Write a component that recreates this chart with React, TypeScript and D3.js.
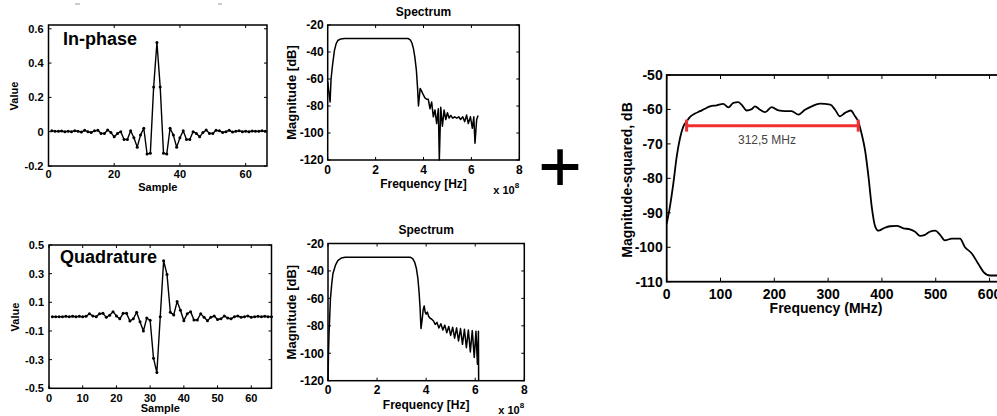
import React from 'react';
import * as d3 from 'd3';

// ---------- data ----------
const inPhase = [
  0.005, 0.003, 0.002, 0.004, 0.0, 0.003, 0.0, 0.006, 0.002, -0.002, 0.008, 0.0, -0.004, 0.005,
  0.008, -0.01, -0.01, 0.01, -0.005, -0.03, -0.01, 0.0, -0.045, -0.045, 0.005, -0.035, -0.09,
  -0.02, 0.02, -0.13, -0.125, 0.26, 0.52, 0.26, -0.125, -0.13, 0.02, -0.02, -0.09, -0.035,
  0.005, -0.045, -0.045, 0.0, -0.01, -0.03, -0.005, 0.01, -0.01, -0.01, 0.008, 0.005, -0.004,
  0.0, 0.008, -0.002, 0.002, 0.006, 0.0, 0.003, 0.0, 0.004, 0.002, 0.003, 0.005, 0.002,
];
const quadrature = [
  0.0, 0.0, 0.0, 0.0, 0.002, 0.0, 0.003, 0.0, 0.002, 0.0, 0.003, 0.02, 0.005, 0.0, 0.02,
  0.023, -0.005, 0.01, 0.035, 0.005, -0.015, 0.023, 0.023, -0.03, -0.015, 0.03, -0.035, -0.1,
  -0.01, -0.025, -0.29, -0.39, 0.0, 0.39, 0.295, 0.03, 0.012, 0.105, 0.045, -0.028, 0.02,
  0.035, -0.023, -0.023, 0.02, -0.005, -0.028, -0.005, 0.005, -0.02, -0.015, 0.005, -0.01,
  -0.015, 0.0, 0.005, -0.005, 0.0, 0.005, -0.005, 0.0, 0.002, 0.0, 0.003, 0.0, 0.0,
];

const spec1Freq = [
  0, 0.05, 0.1, 0.14, 0.2, 0.28, 0.35, 0.42, 0.55, 0.7, 1.5, 2.5, 3.35, 3.45, 3.52, 3.58, 3.64,
  3.7, 3.75, 3.79, 3.86, 3.92, 4.0, 4.06, 4.13, 4.2, 4.27, 4.34, 4.41, 4.48, 4.55, 4.62, 4.66,
  4.72, 4.79, 4.86, 4.93, 5.0, 5.07, 5.14, 5.22, 5.3, 5.39, 5.47, 5.55, 5.64, 5.72, 5.8, 5.87,
  5.96, 6.04, 6.1, 6.15, 6.22, 6.28,
];
const spec1Db = [
  -62, -70, -77, -60, -50, -39, -34, -31.5, -30.3, -30, -30, -30, -30, -31, -33.5, -37.5, -44,
  -53, -66, -80, -67, -69, -72, -74, -75, -75, -82, -77, -88, -83, -93, -82, -120,
  -81, -95, -83, -90, -85, -89, -87, -89, -88, -89, -88, -90, -88, -91.6, -86.7, -93,
  -88, -96.5, -88, -107.6, -90, -87,
];

const spec2Freq = [
  0, 0.02, 0.04, 0.1, 0.15, 0.2, 0.3, 0.4, 0.55, 0.7, 2, 3.35, 3.45, 3.53, 3.6, 3.66, 3.71, 3.75,
  3.79, 3.84, 3.88, 3.92, 3.96, 4.0, 4.05, 4.1, 4.16, 4.22, 4.3, 4.37, 4.44, 4.52, 4.6, 4.68,
  4.76, 4.84, 4.92, 5.0, 5.08, 5.16, 5.24, 5.32, 5.4, 5.48, 5.56, 5.64, 5.72, 5.8, 5.88, 5.96,
  6.03, 6.09, 6.13, 6.14,
];
const spec2Db = [
  -120, -100, -87, -60, -50, -42, -36, -32.5, -30.5, -30, -30, -30, -31, -33.5, -38, -45, -55, -66,
  -82, -75, -68, -65.5, -70, -71.5, -70, -73, -74.5, -75, -76.5, -79, -77.5, -81.5, -78.5, -83,
  -79.5, -85, -80.5, -87, -81, -89, -81.5, -91, -82, -93.5, -82.5, -96, -83, -99, -83.5, -103,
  -84, -108, -84, -120,
];

const bandFreq = [
  0, 6, 12.4, 18.6, 24.8, 31, 37, 43, 52.7, 62, 71, 80.5, 93, 105, 114.6, 124, 133, 139, 148.7,
  158, 164, 173.5, 183, 195, 207.6, 220, 232, 245, 257, 269.5, 285, 304, 313, 322, 331.5, 342,
  350, 356, 362, 368.5, 375, 381, 387.5, 393.6, 403, 415, 427.5, 440, 452, 461.6, 471, 480, 489,
  499, 508, 517, 530, 545, 554, 567, 579, 589, 601, 614,
];
const bandDb = [
  -93.1, -88.2, -81.4, -73.7, -68.3, -64.9, -63.5, -62.2, -61.2, -60.5, -59.8, -59.1, -58.8,
  -58.4, -59.4, -58.1, -57.9, -58.6, -60.3, -59.9, -59.1, -60.1, -60.8, -59.3, -60.3, -60.5,
  -60.5, -61.5, -60.1, -59.1, -58.3, -58.6, -60.1, -62, -61, -60.3, -62, -63.5, -66.9, -71.7,
  -79.5, -88.2, -94, -95.2, -94.5, -93.9, -93.8, -94.5, -94.8, -95.5, -96.7, -96.4, -95.5,
  -95.2, -96.4, -98, -97.5, -97.5, -99.9, -101.8, -104.8, -107.2, -108.2, -108.2,
];
const bandMarker = [37, 356];
const bandMarkerDb = -64.7;
const bandLabel = '312,5 MHz';

const ipYTicks = [-0.2, 0, 0.2, 0.4, 0.6];
const ipXTicks = [0, 20, 40, 60];
const qYTicks = [-0.5, -0.3, -0.1, 0.1, 0.3, 0.5];
const qXTicks = [0, 10, 20, 30, 40, 50, 60];
const specYTicks = [-120, -100, -80, -60, -40, -20];
const specXTicks = [0, 2, 4, 6, 8];
const bandYTicks = [-110, -100, -90, -80, -70, -60, -50];
const bandXTicks = [0, 100, 200, 300, 400, 500, 600];

const FONT = '"Liberation Sans", Arial, Helvetica, sans-serif';

type Sc = d3.ScaleLinear<number, number>;

function Frame(props: {
  xs: Sc; ys: Sc; xTicks: number[]; yTicks: number[];
  xFmt: (v: number) => string; yFmt: (v: number) => string;
  fs: number; xBase: number; yGap: number; tick: number; sw: number;
}) {
  const { xs, ys, xTicks, yTicks, xFmt, yFmt, fs, xBase, yGap, tick, sw } = props;
  const [x0, x1] = xs.range();
  const [yb, yt] = ys.range();
  return (
    <g>
      {xTicks.map((t) => (
        <g key={'x' + t}>
          <line x1={xs(t)} x2={xs(t)} y1={yb} y2={yb - tick} stroke="#000" strokeWidth={1} />
          <line x1={xs(t)} x2={xs(t)} y1={yt} y2={yt + tick} stroke="#000" strokeWidth={1} />
          <text x={xs(t)} y={xBase} textAnchor="middle" fontSize={fs} fontWeight="bold" fontFamily={FONT}>
            {xFmt(t)}
          </text>
        </g>
      ))}
      {yTicks.map((t) => (
        <g key={'y' + t}>
          <line x1={x0} x2={x0 + tick} y1={ys(t)} y2={ys(t)} stroke="#000" strokeWidth={1} />
          <line x1={x1} x2={x1 - tick} y1={ys(t)} y2={ys(t)} stroke="#000" strokeWidth={1} />
          <text x={x0 - yGap} y={ys(t)} dy="0.36em" textAnchor="end" fontSize={fs} fontWeight="bold" fontFamily={FONT}>
            {yFmt(t)}
          </text>
        </g>
      ))}
      <rect x={x0} y={yt} width={x1 - x0} height={yb - yt} fill="none" stroke="#000" strokeWidth={sw} />
    </g>
  );
}

function fmt1(v: number) {
  return v === 0 ? '0' : v.toFixed(1);
}

function TimePanel(props: {
  values: number[]; x0: number; x1: number; y0: number; y1: number; xMax: number;
  yDom: [number, number]; yTicks: number[]; xTicks: number[]; title: string; titleX: number; titleY: number;
  tickBase: number; sampleBase: number; valueX: number; valueY: number;
}) {
  const p = props;
  const xs = d3.scaleLinear().domain([0, p.xMax]).range([p.x0, p.x1]);
  const ys = d3.scaleLinear().domain(p.yDom).range([p.y1, p.y0]);
  const pts = p.values.map((v, i) => [i + 1, v] as [number, number]);
  const line = d3.line<[number, number]>().x((d) => xs(d[0])).y((d) => ys(d[1]));
  return (
    <g>
      <Frame xs={xs} ys={ys} xTicks={p.xTicks} yTicks={p.yTicks} xFmt={(v) => String(v)} yFmt={fmt1}
        fs={11} xBase={p.tickBase} yGap={5} tick={3} sw={1.5} />
      <path d={line(pts) || ''} fill="none" stroke="#000" strokeWidth={1.4} strokeLinejoin="round" />
      {pts.map((d, i) => (
        <circle key={i} cx={xs(d[0])} cy={ys(d[1])} r={1.5} fill="#000" />
      ))}
      <text x={p.titleX} y={p.titleY} fontSize={18} fontWeight="bold" fontFamily={FONT}>{p.title}</text>
      <text x={(p.x0 + p.x1) / 2} y={p.sampleBase} textAnchor="middle" fontSize={11} fontWeight="bold" fontFamily={FONT}>Sample</text>
      <text transform={`translate(${p.valueX},${p.valueY}) rotate(-90)`} textAnchor="middle" fontSize={11} fontWeight="bold" fontFamily={FONT}>Value</text>
    </g>
  );
}

function SpecPanel(props: {
  freq: number[]; db: number[]; x0: number; x1: number; y0: number; y1: number;
  titleBase: number; tickBase: number; freqBase: number; expBase: number; magX: number;
}) {
  const p = props;
  const xs = d3.scaleLinear().domain([0, 8]).range([p.x0, p.x1]);
  const ys = d3.scaleLinear().domain([-120, -20]).range([p.y1, p.y0]);
  const pts = p.freq.map((f, i) => [f, p.db[i]] as [number, number]);
  const line = d3.line<[number, number]>().x((d) => xs(d[0])).y((d) => ys(d[1]));
  const cx = (p.x0 + p.x1) / 2;
  return (
    <g>
      <Frame xs={xs} ys={ys} xTicks={specXTicks} yTicks={specYTicks} xFmt={(v) => String(v)} yFmt={(v) => String(v)}
        fs={12} xBase={p.tickBase} yGap={4} tick={3} sw={1.5} />
      <path d={line(pts) || ''} fill="none" stroke="#000" strokeWidth={1.5} strokeLinejoin="round" />
      <text x={cx} y={p.titleBase} textAnchor="middle" fontSize={12} fontWeight="bold" fontFamily={FONT}>Spectrum</text>
      <text x={cx} y={p.freqBase} textAnchor="middle" fontSize={12} fontWeight="bold" fontFamily={FONT}>Frequency [Hz]</text>
      <text x={p.x1 - 26} y={p.expBase} fontSize={11} fontWeight="bold" fontFamily={FONT}>
        x 10<tspan dy={-6} fontSize={8}>8</tspan>
      </text>
      <text transform={`translate(${p.magX},${(p.y0 + p.y1) / 2}) rotate(-90)`} textAnchor="middle" fontSize={13} fontWeight="bold" fontFamily={FONT}>Magnitude [dB]</text>
    </g>
  );
}

function BandPanel() {
  const x0 = 666.7, x1 = 1003, y0 = 75, y1 = 281.7;
  const xs = d3.scaleLinear().domain([0, 625]).range([x0, x1]);
  const ys = d3.scaleLinear().domain([-110, -50]).range([y1, y0]);
  const pts = bandFreq.map((f, i) => [f, bandDb[i]] as [number, number]);
  const line = d3.line<[number, number]>().x((d) => xs(d[0])).y((d) => ys(d[1])).curve(d3.curveMonotoneX);
  const my = ys(bandMarkerDb);
  const red = '#f03030';
  return (
    <g>
      <Frame xs={xs} ys={ys} xTicks={bandXTicks} yTicks={bandYTicks} xFmt={(v) => String(v)} yFmt={(v) => String(v)}
        fs={14} xBase={298.5} yGap={4} tick={4} sw={1.8} />
      <path d={line(pts) || ''} fill="none" stroke="#000" strokeWidth={1.8} strokeLinejoin="round" />
      <line x1={xs(bandMarker[0])} x2={xs(bandMarker[1])} y1={my} y2={my} stroke={red} strokeWidth={3} />
      <line x1={xs(bandMarker[0])} x2={xs(bandMarker[0])} y1={my - 6} y2={my + 6} stroke={red} strokeWidth={3} />
      <line x1={xs(bandMarker[1])} x2={xs(bandMarker[1])} y1={my - 6} y2={my + 6} stroke={red} strokeWidth={3} />
      <text x={767} y={144} textAnchor="middle" fontSize={12} fill="#444" fontFamily={FONT}>{bandLabel}</text>
      <text x={826} y={313} textAnchor="middle" fontSize={14} fontWeight="bold" fontFamily={FONT}>Frequency (MHz)</text>
      <text transform={`translate(632,180) rotate(-90)`} textAnchor="middle" fontSize={14} fontWeight="bold" fontFamily={FONT}>Magnitude-squared, dB</text>
    </g>
  );
}

export default function App() {
  return (
    <svg width={997} height={416} viewBox="0 0 997 416"
      style={{ position: 'absolute', left: 0, top: 0, background: '#fff', display: 'block' }}>
      <rect x={0} y={0} width={997} height={416} fill="#fff" />
      <line x1={75} x2={80} y1={4} y2={4} stroke="#999" strokeWidth={1} />
      <line x1={218} x2={222} y1={4} y2={4} stroke="#999" strokeWidth={1} />
      <TimePanel values={inPhase} x0={48.5} x1={267} y0={25} y1={166} xMax={66.5}
        yDom={[-0.2, 0.622]} yTicks={ipYTicks} xTicks={ipXTicks} title="In-phase" titleX={63} titleY={45}
        tickBase={178} sampleBase={191} valueX={18} valueY={96} />
      <TimePanel values={quadrature} x0={49} x1={271.5} y0={245} y1={388.3} xMax={66}
        yDom={[-0.5, 0.5]} yTicks={qYTicks} xTicks={qXTicks} title="Quadrature" titleX={60} titleY={263}
        tickBase={401.5} sampleBase={412} valueX={19} valueY={317} />
      <SpecPanel freq={spec1Freq} db={spec1Db} x0={327.7} x1={519.3} y0={25} y1={160}
        titleBase={16} tickBase={174} freqBase={188} expBase={194} magX={296} />
      <SpecPanel freq={spec2Freq} db={spec2Db} x0={328} x1={524.3} y0={243.5} y1={380.7}
        titleBase={234} tickBase={394} freqBase={409} expBase={414} magX={296} />
      <rect x={557.3} y={149.3} width={5.5} height={35.7} fill="#000" />
      <rect x={541.7} y={164} width={36.6} height={6} fill="#000" />
      <BandPanel />
    </svg>
  );
}
